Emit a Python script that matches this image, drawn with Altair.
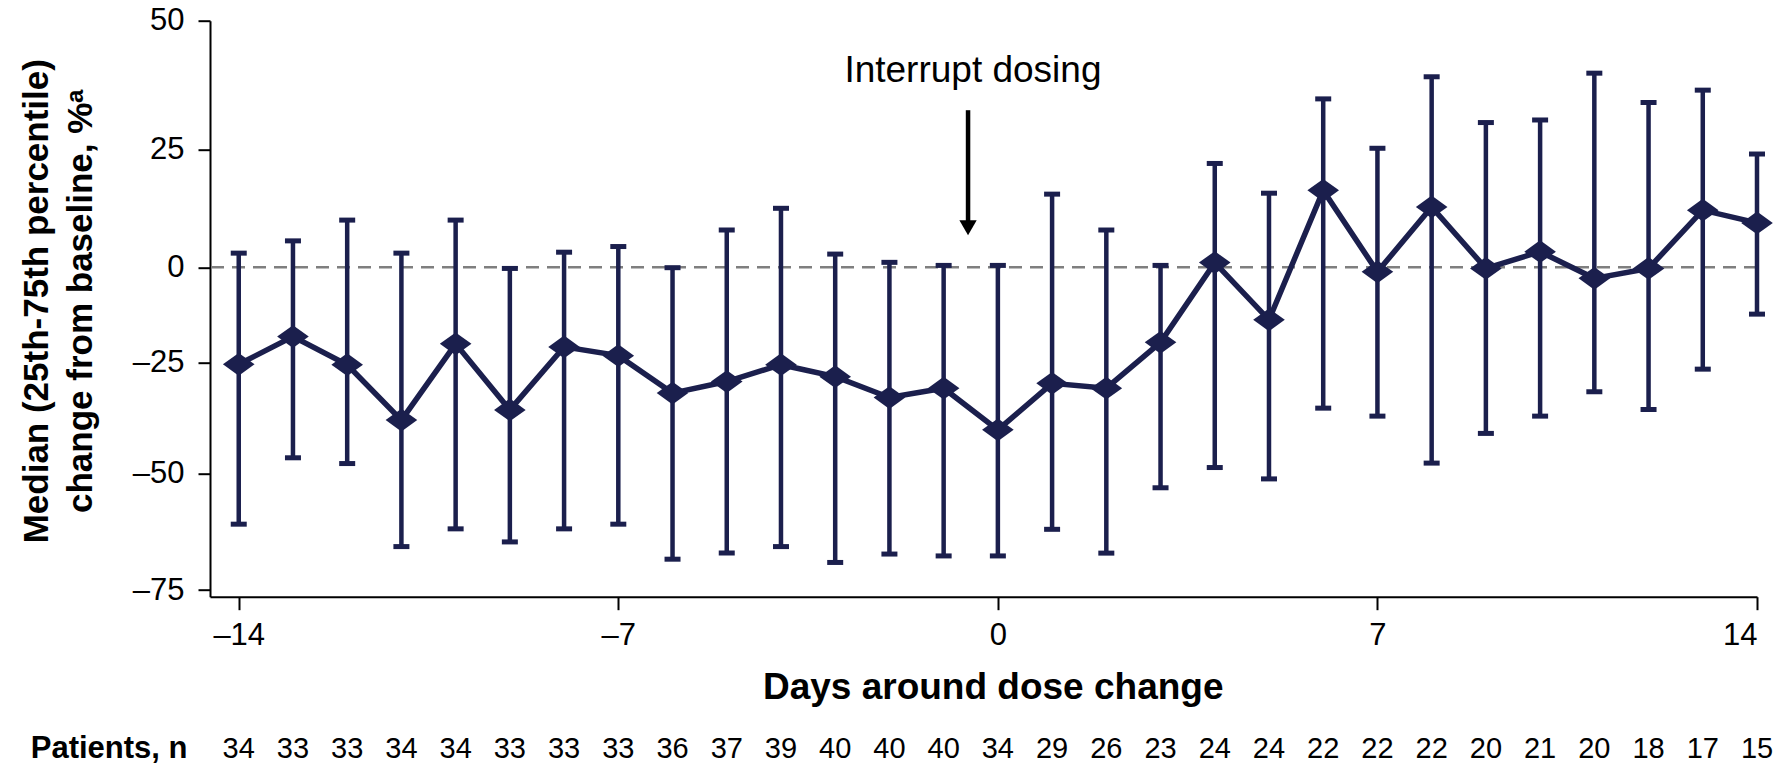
import altair as alt
import pandas as pd

# ---- data ----
days = list(range(-14, 15))
median = [-25.4, -18.2, -25.5, -38.0, -20.1, -35.7, -20.9, -23.2, -31.9, -29.3,
          -25.5, -28.2, -32.9, -30.8, -40.2, -29.7, -30.8, -19.7, 1.0, -13.8,
          16.3, -1.2, 12.8, -0.3, 3.3, -2.9, -0.3, 12.1, 9.4]
upper = [3.0, 5.6, 10.0, 3.0, 10.0, -0.3, 3.2, 4.4, -0.1, 7.9,
         12.5, 2.8, 1.05, 0.4, 0.4, 15.5, 7.9, 0.4, 22.0, 15.7,
         34.8, 25.2, 39.1, 30.2, 30.7, 39.8, 34.1, 36.5, 24.0]
lower = [-60.9, -46.5, -47.8, -65.7, -61.9, -64.7, -61.9, -60.9, -68.4, -67.1,
         -65.7, -69.1, -67.3, -67.7, -67.7, -62.0, -67.1, -53.1, -48.7, -51.2,
         -35.3, -37.1, -47.7, -41.0, -37.1, -31.6, -35.6, -26.5, -12.3]
patients = [34, 33, 33, 34, 34, 33, 33, 33, 36, 37, 39, 40, 40, 40, 34,
            29, 26, 23, 24, 24, 22, 22, 22, 20, 21, 20, 18, 17, 15]

x_ticks = [-14, -7, 0, 7, 14]
y_ticks = [-75, -50, -25, 0, 25, 50]

# the source axis has uneven tick spacing: reproduce it with a piecewise scale
x_domain = [-14.53, 14]
y_domain = [-76.43, -75, -50, -25, 0, 25, 50]
y_range = [576, 569.3, 452.6, 341.8, 246.6, 128.6, 0]

# annotation ("Interrupt dosing" and arrow), in data units
annot_label = ["Interrupt dosing"]
annot_x = [-0.46]
annot_y = [38.1]
arrow_x = [-0.55]
arrow_top = [32.6]
arrow_bottom = [9.6]
arrow_head = [8.4]
zero_line = [0]

NAVY = "#1b1f4d"
FONT = "Liberation Sans"
W, H = 1547, 576

df = pd.DataFrame({"day": days, "median": median, "upper": upper,
                   "lower": lower, "n": patients})

minus_expr = "(datum.value < 0 ? '\u2013' : '') + abs(datum.value)"

x_axis = alt.Axis(values=x_ticks, title="Days around dose change",
                  labelExpr=minus_expr, labelFont=FONT, labelFontSize=31,
                  labelColor="black", labelPadding=11, labelOverlap=False,
                  tickSize=13, tickWidth=2, tickColor="black",
                  domainColor="black", domainWidth=2, grid=False,
                  titleFont=FONT, titleFontSize=37, titleFontWeight="bold",
                  titleColor="black", titleBaseline="alphabetic",
                  titleAlign="center", titleX=782.7, titleY=101.3)
y_axis = alt.Axis(values=y_ticks,
                  title=["Median (25th-75th percentile)",
                         "change from baseline, %\u1d43"],
                  labelExpr=minus_expr, labelFont=FONT, labelFontSize=31,
                  labelColor="black", labelPadding=14, labelOverlap=False,
                  tickSize=12, tickWidth=2, tickColor="black",
                  domainColor="black", domainWidth=2, grid=False,
                  titleFont=FONT, titleFontSize=35, titleFontWeight="bold",
                  titleColor="black", titleAngle=270, titleAlign="center",
                  titleBaseline="alphabetic", titleLineHeight=44,
                  titleX=-163, titleY=280)

xs = alt.Scale(domain=x_domain, nice=False, zero=False)
ys = alt.Scale(domain=y_domain, range=y_range, nice=False, zero=False)

base = alt.Chart(df)

zero = alt.Chart(pd.DataFrame({"v": zero_line})).mark_rule(
    color="#7f7f7f", strokeWidth=2.6, strokeDash=[13, 8]
).encode(y=alt.Y("v:Q", scale=ys, axis=y_axis))

bars = base.mark_rule(color=NAVY, strokeWidth=4.5).encode(
    x=alt.X("day:Q", scale=xs, axis=x_axis),
    y=alt.Y("lower:Q", scale=ys, axis=y_axis),
    y2="upper:Q",
)
cap_hi = base.mark_tick(color=NAVY, orient="horizontal", size=16,
                        thickness=5, opacity=1).encode(
    x=alt.X("day:Q", scale=xs, axis=x_axis),
    y=alt.Y("upper:Q", scale=ys, axis=y_axis),
)
cap_lo = base.mark_tick(color=NAVY, orient="horizontal", size=16,
                        thickness=5, opacity=1).encode(
    x=alt.X("day:Q", scale=xs, axis=x_axis),
    y=alt.Y("lower:Q", scale=ys, axis=y_axis),
)
line = base.mark_line(color=NAVY, strokeWidth=5.5).encode(
    x=alt.X("day:Q", scale=xs, axis=x_axis),
    y=alt.Y("median:Q", scale=ys, axis=y_axis),
)
pts = base.mark_point(shape="M-1,0L0,-0.72L1,0L0,0.72Z", filled=True,
                      color=NAVY, size=1000, opacity=1, strokeWidth=0).encode(
    x=alt.X("day:Q", scale=xs, axis=x_axis),
    y=alt.Y("median:Q", scale=ys, axis=y_axis),
)

ann_df = pd.DataFrame({"label": annot_label, "x": annot_x, "y": annot_y})
ann = alt.Chart(ann_df).mark_text(font=FONT, fontSize=37, color="black",
                                  align="center", baseline="alphabetic").encode(
    x=alt.X("x:Q", scale=xs, axis=x_axis),
    y=alt.Y("y:Q", scale=ys, axis=y_axis),
    text="label:N",
)
arr_df = pd.DataFrame({"x": arrow_x, "top": arrow_top, "bottom": arrow_bottom,
                       "head": arrow_head})
shaft = alt.Chart(arr_df).mark_rule(color="black", strokeWidth=4.5).encode(
    x=alt.X("x:Q", scale=xs, axis=x_axis),
    y=alt.Y("top:Q", scale=ys, axis=y_axis),
    y2="bottom:Q",
)
head = alt.Chart(arr_df).mark_point(shape="triangle-down", filled=True,
                                    color="black", size=300, opacity=1,
                                    strokeWidth=0).encode(
    x=alt.X("x:Q", scale=xs, axis=x_axis),
    y=alt.Y("head:Q", scale=ys, axis=y_axis),
)

counts = base.mark_text(font=FONT, fontSize=29, color="black",
                        align="center", baseline="alphabetic").encode(
    x=alt.X("day:Q", scale=xs, axis=x_axis),
    y=alt.value(737.5),
    text="n:Q",
)
count_label = alt.Chart(pd.DataFrame({"t": ["Patients, n"]})).mark_text(
    font=FONT, fontSize=31, fontWeight="bold", color="black",
    align="right", baseline="alphabetic"
).encode(x=alt.value(-22.5), y=alt.value(737.5), text="t:N")

chart = alt.layer(
    zero, bars, cap_hi, cap_lo, line, pts, ann, shaft, head, counts, count_label
).properties(
    width=W, height=H,
    autosize=alt.AutoSizeParams(type="none"),
    padding={"left": 210, "top": 20.7, "right": 18, "bottom": 168.3},
    background="white",
).configure_view(stroke=None)

chart.save("out.html", embed_options={"renderer": "svg", "actions": False})
